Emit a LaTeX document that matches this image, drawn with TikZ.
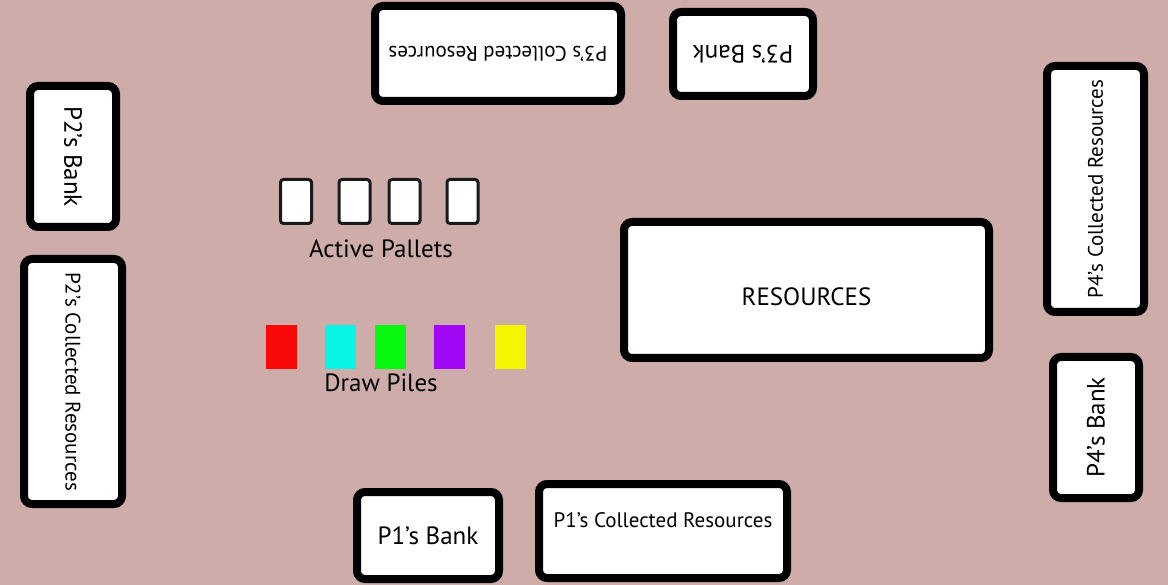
\documentclass[tikz,border=0pt]{standalone}
\usepackage{fontspec}
\setmainfont{PT Sans}
\usepackage{tikz}
\definecolor{felt}{HTML}{CDACAA}
\definecolor{pileRed}{HTML}{F80808}
\definecolor{pileCyan}{HTML}{08F5E6}
\definecolor{pileGreen}{HTML}{08F810}
\definecolor{pilePurple}{HTML}{A008F5}
\definecolor{pileYellow}{HTML}{F5F500}
\def \BigFont {\fontsize{25}{28}\selectfont}
\def \SmallFont {\fontsize{21}{24}\selectfont}
\tikzstyle{zone}=[
  draw=black,
  fill=white,
  line width=8pt,
  rounded corners=8pt,
  inner sep=0pt,
  font=\BigFont
]
\tikzstyle{pallet}=[
  draw=black!90,
  fill=white,
  line width=3pt,
  rounded corners=3pt,
  minimum width=31pt,
  minimum height=44pt
]
\tikzstyle{pile}=[
  minimum width=31pt,
  minimum height=44pt,
  inner sep=0pt
]

\begin{document}
\begin{tikzpicture}[x=1pt,y=-1pt]
          \fill[felt] (0,0) rectangle (1168,585);

          % player 3 (top, upside down)
          \node[zone, rotate=180, minimum width=246pt, minimum height=95pt, font=\SmallFont]
            (p3col) at (498,53.5) {P3's Collected Resources};
          \node[zone, rotate=180, minimum width=140pt, minimum height=84pt]
            (p3bank) at (743,54) {P3's Bank};

          % player 2 (left)
          \node[zone, rotate=-90, minimum width=141pt, minimum height=86pt]
            (p2bank) at (73,156.5) {P2's Bank};
          \node[zone, rotate=-90, minimum width=245pt, minimum height=98pt, font=\SmallFont]
            (p2col) at (73,381.5) {P2's Collected Resources};

          % player 4 (right)
          \node[zone, rotate=90, minimum width=246pt, minimum height=97pt, font=\SmallFont]
            (p4col) at (1095.5,189) {P4's Collected Resources};
          \node[zone, rotate=90, minimum width=141pt, minimum height=86pt]
            (p4bank) at (1096,427.5) {P4's Bank};

          % player 1 (bottom)
          \node[zone, minimum width=142pt, minimum height=87pt]
            (p1bank) at (428,535.5) {P1's Bank};
          \node[zone, minimum width=248pt, minimum height=94pt, font=\SmallFont,
                text height=14pt, text depth=22pt]
            (p1col) at (663,531) {P1's Collected Resources};

          % shared supply
          \node[zone, minimum width=365pt, minimum height=136pt,
                text height=32pt, text depth=0pt]
            (res) at (806.5,290) {RESOURCES};

          \foreach \x [count=\i] in {296,354.5,404.5,462.5}{
            \node[pallet] (pallet\i) at (\x,201.5) {};
          }
          \node[font=\BigFont] (palletLabel) at (381,249) {Active Pallets};

          \foreach \x/\c in {281.5/pileRed,340/pileCyan,390/pileGreen,449/pilePurple,510/pileYellow}{
            \node[pile, fill=\c] (\c) at (\x,347) {};
          }
          \node[font=\BigFont] (pileLabel) at (381,383) {Draw Piles};
        \end{tikzpicture}
\end{document}
